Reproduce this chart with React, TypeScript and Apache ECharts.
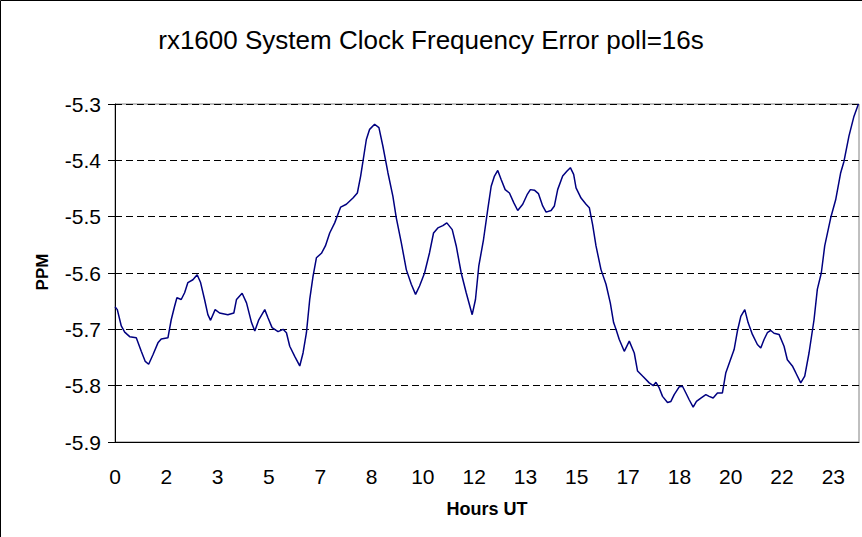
import React, { useEffect, useRef } from "react";
import * as echarts from "echarts";

// Time of day in hours (UT)
const hours = [
  0.0, 0.075, 0.204, 0.315, 0.477, 0.691, 0.853, 0.983, 1.093, 1.233, 1.395, 1.502, 1.719, 1.826, 1.936,
  2.011, 2.151, 2.261, 2.368, 2.53, 2.669, 2.78, 2.909, 3.017, 3.104, 3.253, 3.396, 3.665, 3.86, 3.947,
  4.129, 4.272, 4.434, 4.541, 4.671, 4.865, 4.972, 5.102, 5.297, 5.459, 5.569, 5.676, 5.838, 6.001,
  6.108, 6.218, 6.325, 6.432, 6.542, 6.705, 6.834, 6.974, 7.136, 7.331, 7.515, 7.73, 7.872, 7.979,
  8.054, 8.164, 8.271, 8.433, 8.573, 8.702, 8.865, 9.027, 9.137, 9.299, 9.462, 9.624, 9.763, 9.893,
  10.055, 10.217, 10.347, 10.487, 10.649, 10.779, 10.954, 11.084, 11.246, 11.408, 11.602, 11.709,
  11.816, 11.969, 12.108, 12.219, 12.326, 12.433, 12.543, 12.673, 12.812, 12.952, 13.081, 13.244,
  13.386, 13.493, 13.623, 13.753, 13.892, 14.003, 14.165, 14.272, 14.379, 14.541, 14.684, 14.791,
  14.898, 14.976, 15.138, 15.3, 15.407, 15.514, 15.624, 15.786, 15.949, 16.088, 16.196, 16.273,
  16.38, 16.542, 16.705, 16.867, 16.974, 17.136, 17.353, 17.483, 17.571, 17.678, 17.785, 17.947,
  18.057, 18.164, 18.326, 18.433, 18.544, 18.651, 18.78, 18.887, 19.03, 19.192, 19.299, 19.429,
  19.569, 19.73, 19.841, 19.971, 20.11, 20.217, 20.328, 20.457, 20.564, 20.704, 20.866, 20.976,
  21.083, 21.19, 21.301, 21.408, 21.57, 21.732, 21.839, 22.002, 22.112, 22.274, 22.404, 22.543,
  22.706, 22.813, 22.942, 23.053, 23.248, 23.409, 23.572, 23.678, 23.84, 24.002, 24.148,
];

// Frequency error in PPM
const ppm = [
  -5.66, -5.665, -5.694, -5.705, -5.713, -5.715, -5.739, -5.757, -5.762, -5.745, -5.724, -5.717, -5.715, -5.683, -5.659,
  -5.644, -5.647, -5.635, -5.617, -5.612, -5.603, -5.617, -5.647, -5.674, -5.684, -5.665, -5.671, -5.674, -5.671, -5.647,
  -5.636, -5.653, -5.688, -5.703, -5.683, -5.665, -5.68, -5.697, -5.704, -5.7, -5.706, -5.73, -5.748, -5.765,
  -5.742, -5.706, -5.647, -5.606, -5.573, -5.565, -5.552, -5.529, -5.511, -5.483, -5.478, -5.467, -5.458, -5.428,
  -5.402, -5.363, -5.345, -5.336, -5.342, -5.375, -5.422, -5.464, -5.502, -5.546, -5.594, -5.62, -5.638, -5.623,
  -5.6, -5.564, -5.529, -5.52, -5.516, -5.511, -5.523, -5.552, -5.6, -5.635, -5.674, -5.647,
  -5.588, -5.541, -5.487, -5.446, -5.428, -5.418, -5.434, -5.452, -5.458, -5.475, -5.489, -5.478,
  -5.461, -5.452, -5.453, -5.459, -5.481, -5.492, -5.489, -5.481, -5.452, -5.428, -5.419, -5.413,
  -5.425, -5.449, -5.467, -5.478, -5.484, -5.514, -5.552, -5.594, -5.62, -5.653, -5.688, -5.7,
  -5.718, -5.739, -5.721, -5.742, -5.774, -5.783, -5.795, -5.8, -5.794, -5.804, -5.819, -5.83,
  -5.828, -5.816, -5.802, -5.801, -5.813, -5.825, -5.838, -5.828, -5.822, -5.816, -5.819, -5.822,
  -5.813, -5.813, -5.777, -5.757, -5.736, -5.703, -5.677, -5.665, -5.688, -5.709, -5.727, -5.733,
  -5.718, -5.706, -5.702, -5.707, -5.709, -5.73, -5.754, -5.765, -5.777, -5.795, -5.783, -5.742,
  -5.683, -5.629, -5.6, -5.552, -5.502, -5.47, -5.422, -5.402, -5.357, -5.322, -5.3,
];

const TITLE = "rx1600 System Clock Frequency Error poll=16s";
const X_NAME = "Hours UT";
const Y_NAME = "PPM";

export default function App() {
  const ref = useRef<HTMLDivElement>(null);
  useEffect(() => {
    if (!ref.current) return;
    const chart = echarts.init(ref.current, null, { renderer: "svg" });
    const font = "'Liberation Sans', Arial, sans-serif";
    // x expressed in minutes so that the tick interval is an integer
    const data = hours.map((h, i) => [h * 60, ppm[i]]);
    chart.setOption({
      animation: false,
      backgroundColor: "#ffffff",
      title: {
        text: TITLE,
        left: "center",
        top: 22,
        textStyle: { fontFamily: font, fontSize: 26, fontWeight: "normal", color: "#000" },
      },
      grid: { left: 115, right: 3, top: 104, bottom: 95, show: true, borderColor: "#808080", borderWidth: 1 },
      xAxis: {
        type: "value",
        min: 0,
        max: 1450,
        interval: 100,
        axisLine: { show: true, lineStyle: { color: "#000", width: 1 } },
        axisTick: { show: false },
        splitLine: { show: false },
        axisLabel: {
          showMaxLabel: false,
          margin: 24,
          fontFamily: font,
          fontSize: 21,
          color: "#000",
          formatter: (v: number) => String(Math.round(v / 60)),
        },
      },
      yAxis: {
        type: "value",
        min: -5.9,
        max: -5.3,
        interval: 0.1,
        axisLine: { show: true, lineStyle: { color: "#000", width: 1 } },
        axisTick: { show: true, length: 7, lineStyle: { color: "#000" } },
        splitLine: { show: true, lineStyle: { color: "#000", type: [7, 4], width: 1 } },
        axisLabel: {
          margin: 14,
          fontFamily: font,
          fontSize: 21,
          color: "#000",
          formatter: (v: number) => v.toFixed(1),
        },
      },
      graphic: [
        {
          type: "rect",
          shape: { x: 0.5, y: 0.5, width: 900, height: 600 },
          style: { fill: "none", stroke: "#000", lineWidth: 1 },
          silent: true,
        },
        {
          type: "text",
          x: 42,
          y: 272,
          rotation: Math.PI / 2,
          style: { text: Y_NAME, font: `bold 17px ${font}`, fill: "#000", textAlign: "center", textVerticalAlign: "middle" },
        },
        {
          type: "text",
          x: 487,
          y: 509,
          style: { text: X_NAME, font: `bold 18px ${font}`, fill: "#000", textAlign: "center", textVerticalAlign: "middle" },
        },
      ],
      series: [
        {
          type: "line",
          data,
          showSymbol: false,
          lineStyle: { color: "#000080", width: 1.5 },
          itemStyle: { color: "#000080" },
        },
      ],
    });
    return () => chart.dispose();
  }, []);
  return <div ref={ref} style={{ position: "fixed", left: 0, top: 0, width: 862, height: 537 }} />;
}
